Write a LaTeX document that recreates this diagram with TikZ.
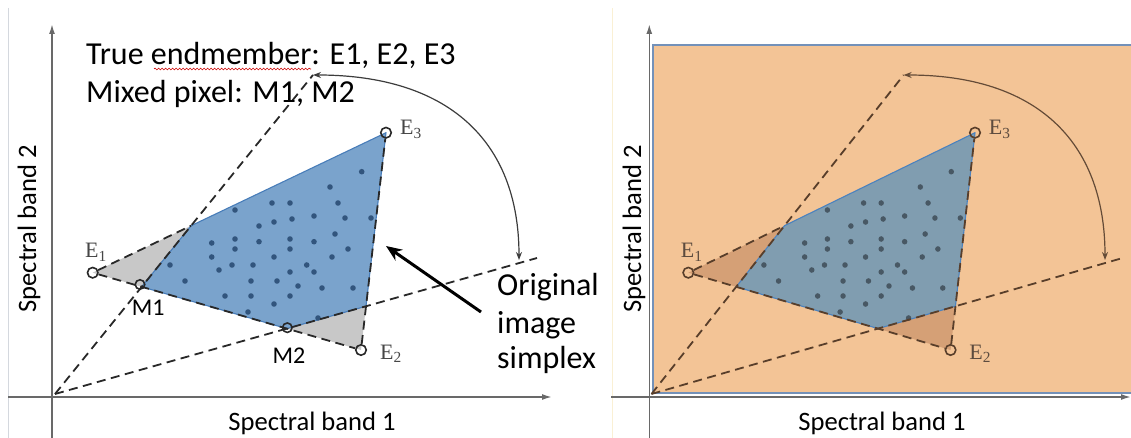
\documentclass[tikz,border=0pt]{standalone}
\usepackage{fontspec}
\setmainfont{Carlito}
\newfontfamily\tmsfont{Liberation Serif}
\usetikzlibrary{arrows.meta,decorations.pathmorphing}

\definecolor{axisC}{RGB}{105,105,105}
\definecolor{LpolyF}{RGB}{122,163,204}
\definecolor{LpolyE}{RGB}{72,125,185}
\definecolor{LtriF}{RGB}{200,200,200}
\definecolor{LdotC}{RGB}{50,85,125}
\definecolor{LdashC}{RGB}{40,40,40}
\definecolor{LlabC}{RGB}{70,70,70}
\definecolor{LarcC}{RGB}{60,60,60}
\definecolor{RpolyF}{RGB}{128,157,176}
\definecolor{RpolyE}{RGB}{75,130,190}
\definecolor{RtriF}{RGB}{213,160,118}
\definecolor{RdotC}{RGB}{72,88,100}
\definecolor{RdashC}{RGB}{88,62,42}
\definecolor{RlabC}{RGB}{92,75,62}
\definecolor{RarcC}{RGB}{100,75,55}
\definecolor{bgOrange}{RGB}{243,196,150}
\definecolor{rectEdge}{RGB}{115,145,185}
\definecolor{faintL}{RGB}{212,216,222}
\definecolor{faintR}{RGB}{250,240,212}

\tikzset{
  axisline/.style={draw=axisC, line width=1.6pt, -{Latex[length=10pt,width=6pt]}},
  dashln/.style={line width=1.8pt, dash pattern=on 9pt off 5.5pt},
  endc/.style={circle, draw, line width=1.6pt, minimum size=10.5pt, inner sep=0pt},
  elabel/.style={font=\tmsfont\fontsize{22}{22}\selectfont, inner sep=0pt, anchor=base west},
  arcl/.style={line width=1.2pt, {Stealth[length=8pt,width=6pt]}-{Stealth[length=8pt,width=6pt]}},
  bigtext/.style={font=\fontsize{32}{38}\selectfont, inner sep=0pt, anchor=base west},
  axlabel/.style={font=\fontsize{26.6}{30}\selectfont, inner sep=0pt, anchor=base},
  mlabel/.style={font=\fontsize{24}{28}\selectfont, inner sep=0pt, anchor=base},
}

\newcommand\simplexpanel[1]{%
  \coordinate (#1O) at (55,394);
  \coordinate (#1T1) at (313,75);
  \coordinate (#1T2) at (537,258);
  \coordinate (#1A2) at (519,260);
  \coordinate (#1e1) at (92.7,272.7);
  \coordinate (#1e2) at (361,350);
  \coordinate (#1e3) at (386,132.7);
  \coordinate (#1M1) at (141.7,286.8);
  \coordinate (#1P1) at (191.1,225.7);
  \coordinate (#1M2) at (286.8,328.6);
  \coordinate (#1P2) at (366.0,306.2);
  \fill[#1triF] (#1e1) -- (#1P1) -- (#1M1) -- cycle;
  \fill[#1triF] (#1M2) -- (#1P2) -- (#1e2) -- cycle;
  \filldraw[fill=#1polyF, draw=#1polyE, line width=1.1pt, line join=round]
    (#1M1) -- (#1P1) -- (#1e3) -- (#1P2) -- (#1M2) -- cycle;
  \foreach \x/\y in {361.7/171.7, 330/187, 235/210, 272/203, 290/203, 338/203,
      259/226, 274/222, 292/219, 314/216, 345/218, 371/218,
      211.7/243, 235/239, 259/241.7, 290/239, 314/241.7, 335/234,
      211.7/257, 235/249, 290/249, 274/257, 348/249, 332/257,
      170/265, 219/270, 232/265, 253/265, 290/272, 306.7/265, 314/272,
      185/281, 251/281, 277/281, 298/286, 322/288, 353/288,
      225/296, 251/296, 274/304, 290/296, 248/312, 318/318}
    {\fill[#1dotC] (\x,\y) circle (2.8);}
  \node[endc, draw=#1dashC] (#1E1) at (#1e1) {};
  \node[endc, draw=#1dashC] (#1E2) at (#1e2) {};
  \node[endc, draw=#1dashC] (#1E3) at (#1e3) {};
  \draw[dashln, draw=#1dashC] (#1E1) -- (#1P1);
  \draw[dashln, draw=#1dashC] (#1E1) -- (#1E2);
  \draw[dashln, draw=#1dashC] (#1E2) -- (#1E3);
  \draw[dashln, draw=#1dashC] (#1O) -- (#1T1);
  \draw[dashln, draw=#1dashC] (#1O) -- (#1T2);
  \node[elabel, text=#1labC] (#1lE1) at (85,258) {E\textsubscript{1}};
  \node[elabel, text=#1labC] (#1lE2) at (380,359) {E\textsubscript{2}};
  \node[elabel, text=#1labC] (#1lE3) at (400,135) {E\textsubscript{3}};
  \draw[arcl, draw=#1arcC, fill=none] (#1T1) .. controls (446.9,75) and (519,139.75) .. (#1A2);
}

\begin{document}
\begin{tikzpicture}[x=1pt,y=-1pt]
\useasboundingbox (0,0) rectangle (1131,438);

% faint panel borders
\coordinate (fLa) at (8,8); \coordinate (fLb) at (8,438);
\coordinate (fRa) at (612,8); \coordinate (fRb) at (612,438);
\draw[faintL, line width=1pt] (fLa) -- (fLb);
\draw[faintR, line width=1pt] (fRa) -- (fRb);

% right panel background
\fill[bgOrange] (653,45) rectangle (1131,393);
\draw[rectEdge, line width=1.8pt] (1131,45) -- (653,45) -- (653,393) -- (1131,393);

% left panel
\simplexpanel{L}
% right panel
\begin{scope}[shift={(597.7,0)}, xscale=0.9775]
\simplexpanel{R}
\end{scope}

% mixed pixels (left)
\node[endc, draw=LdashC, minimum size=9.5pt] (M1c) at (140,284.5) {};
\node[endc, draw=LdashC, minimum size=9.5pt] (M2c) at (287.3,327.7) {};
\node[mlabel] (M1t) at (148.3,315) {M1};
\node[mlabel] (M2t) at (289,363) {M2};

% axes
\coordinate (LyB) at (52,438); \coordinate (LyT) at (52,24);
\coordinate (LxL) at (8,397);  \coordinate (LxR) at (552,397);
\coordinate (RyB) at (649.3,438); \coordinate (RyT) at (649.3,24);
\coordinate (RxL) at (611,397);  \coordinate (RxR) at (1131,397);
\draw[axisline] (LyB) -- (LyT);
\draw[axisline] (LxL) -- (LxR);
\draw[axisline] (RyB) -- (RyT);
\draw[axisline] (RxL) -- (RxR);

% axis labels
\node[axlabel] (lx1) at (312,430) {Spectral band 1};
\node[axlabel, rotate=90] (ly1) at (36,229) {Spectral band 2};
\node[axlabel] (rx1) at (882,430) {Spectral band 1};
\node[axlabel, rotate=90] (ry1) at (641,229) {Spectral band 2};

% legend text
\node[bigtext] (t1) at (86,65) {True endmember: E1, E2, E3};
\node[bigtext] (t2) at (86,103) {Mixed pixel: M1, M2};
\coordinate (sqA) at (154,69); \coordinate (sqB) at (311,69);
\draw[red!80!black, line width=0.6pt, decorate, decoration={snake, amplitude=0.9pt, segment length=3.5pt}] (sqA) -- (sqB);

% original image simplex
\node[bigtext] (o1) at (497,295.7) {Original};
\node[bigtext] (o2) at (497,333) {image};
\node[bigtext] (o3) at (497,368) {simplex};
\coordinate (pA) at (481,312); \coordinate (pB) at (386,246);
\draw[line width=3pt, -{Stealth[length=16pt,width=13pt]}] (pA) -- (pB);
\end{tikzpicture}
\end{document}
